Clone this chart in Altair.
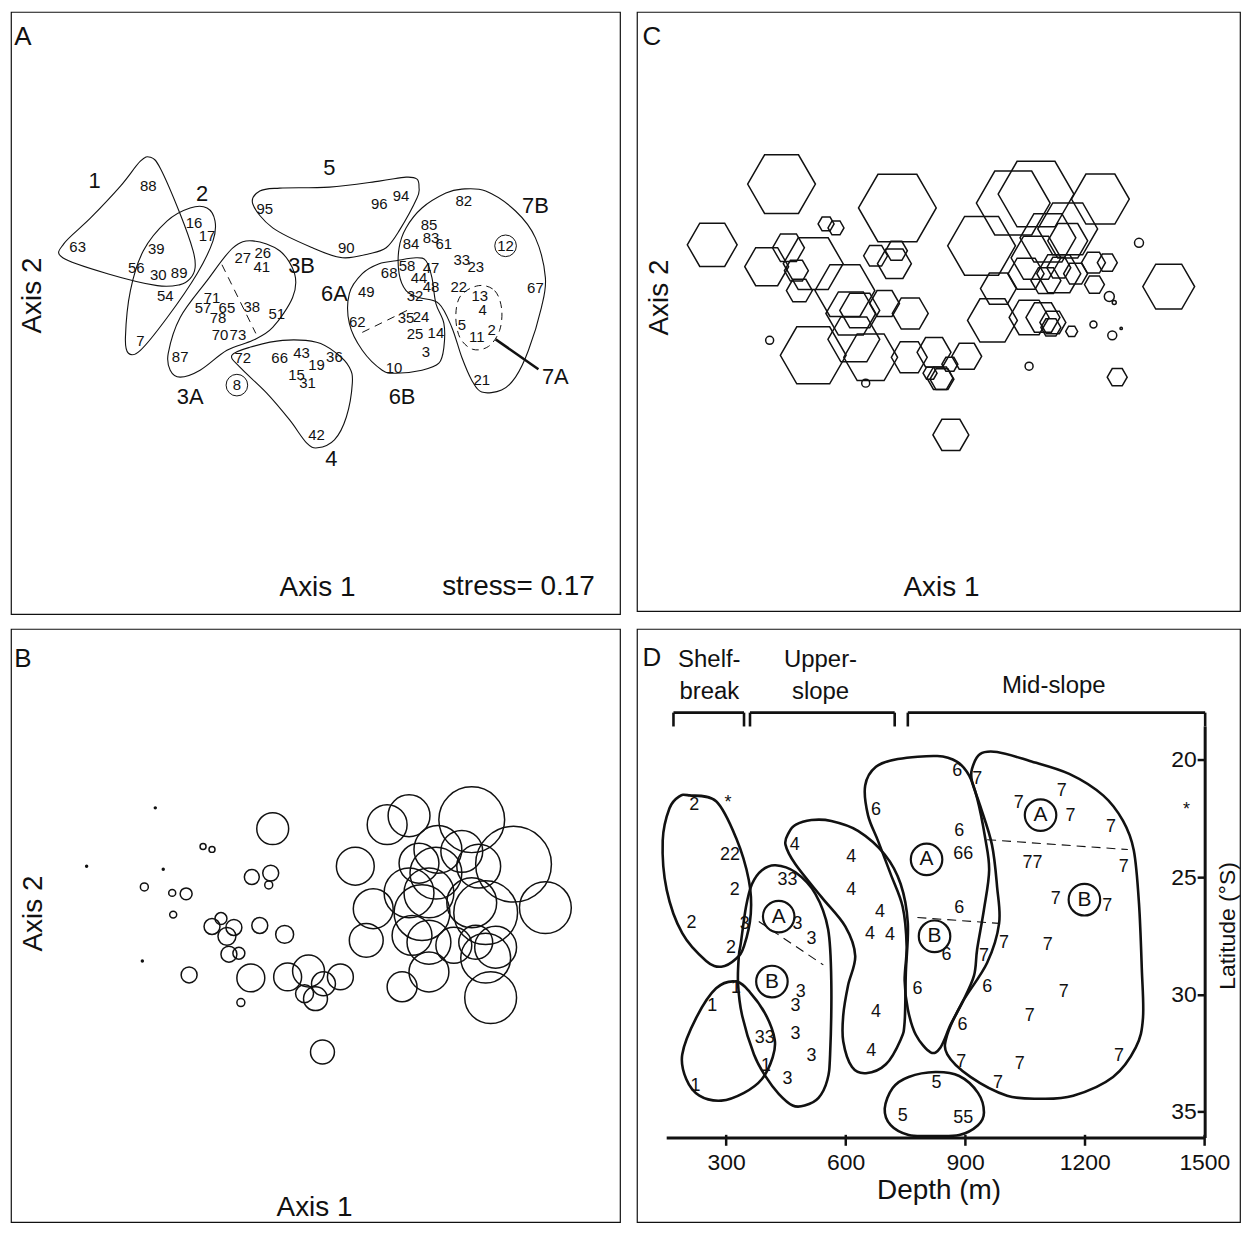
import altair as alt
import pandas as pd

FONT = "Liberation Sans"
INK = "#111111"
HEX = "M-1,0L-0.5,-0.866L0.5,-0.866L1,0L0.5,0.866L-0.5,0.866Z"

# ---------------- Panel A : NMDS ordination, site numbers ----------------
A_site_label = ["88","16","17","63","39","56","30","89","54","7",
                "27","26","41","71","57","65","78","38","51","70",
                "73","87","72","66","43","19","36","15","31","42",
                "8","95","96","94","90","82","85","83","61","84",
                "12","33","23","58","68","47","44","49","48","22",
                "13","67","32","4","62","35","24","5","25","14",
                "11","2","3","10","21"]
A_site_ax1 = [148,194,207,77,156,136,158,179,165,140,
              243,263,262,212,203,227,218,252,277,220,
              238,180,243,280,302,317,335,297,308,317,
              237,265,380,402,347,465,430,432,445,412,
              507,463,477,408,390,432,420,367,432,460,
              481,537,416,484,358,407,422,463,416,437,
              478,493,427,395,483]
A_site_ax2 = [185,222,235,246,248,267,274,272,295,341,
              257,252,266,297,308,308,318,306,314,335,
              335,357,358,358,353,365,357,375,383,435,
              385,208,203,195,247,200,224,237,243,243,
              245,259,266,265,272,267,277,291,286,286,
              295,287,295,310,322,318,317,325,334,333,
              337,330,352,368,380]

A_group_label = ["1","2","5","7B","3B","6A","3A","6B","4","7A"]
A_group_ax1 = [94,202,330,537,302,335,190,403,332,557]
A_group_ax2 = [180,193,167,205,265,293,397,397,459,377]

A_outlines = {
    "1": [(150,156),(160,167),(180,213),(193,250),(195,267),(190,278),(180,284),(157,285),
          (107,273),(62,257),(63,243),(90,217),(120,185),(140,160)],
    "2": [(207,207),(215,220),(213,240),(197,273),(167,317),(140,350),(128,353),(125,337),
          (130,290),(143,250),(167,220),(190,207)],
    "3": [(253,240),(280,250),(295,273),(293,297),(273,327),(253,340),(227,350),(200,370),
          (180,377),(170,370),(168,353),(180,317),(207,280),(233,247)],
    "4": [(232,355),(250,347),(283,340),(317,342),(337,353),(350,367),(353,383),(347,417),
          (335,440),(318,448),(307,443),(290,420),(267,393),(240,367)],
    "5": [(253,203),(260,190),(280,187),(330,186),(380,180),(407,176),(418,178),(420,186),
          (418,197),(400,230),(387,247),(370,253),(343,257),(313,247),(273,227)],
    "6": [(397,260),(417,257),(427,260),(433,277),(437,303),(445,323),(445,347),(440,363),
          (423,370),(397,373),(383,370),(363,350),(350,323),(350,293),(363,273),(380,263)],
    "7": [(463,188),(487,190),(517,210),(537,237),(547,277),(543,307),(530,350),(517,377),
          (503,390),(483,392),(473,380),(463,357),(453,327),(440,303),(420,297),(407,290),
          (400,273),(400,247),(407,227),(423,207),(447,192)],
}
A_subgroup_7A = [(480,285),(496,290),(503,308),(501,330),(490,346),(474,349),(461,337),
                 (457,315),(462,295)]
A_split_x1 = [222, 363]
A_split_y1 = [264, 332]
A_split_x2 = [256, 412]
A_split_y2 = [333, 308]
A_pointer = [(497, 339, 540, 369)]
A_ring_ax1 = [237, 507]
A_ring_ax2 = [385, 245]

# ---------------- Panel B : bubbles ----------------
B_dot_ax1 = [155, 86, 163, 142]
B_dot_ax2 = [811, 870, 873, 966]
B_ax1 = [203,212,144,172,186,173,273,252,271,269,221,212,234,227,260,285,229,239,189,251,
         288,309,324,305,316,341,241,323,
         388,410,473,515,356,439,463,420,480,437,410,374,430,487,473,547,423,367,413,430,
         455,477,497,487,430,403,492]
B_ax2 = [850,853,891,897,898,919,832,881,877,889,923,931,932,941,930,939,959,958,980,983,
         982,976,989,999,1004,982,1008,1058,
         828,819,823,868,870,853,855,867,870,877,897,913,897,917,907,912,917,945,940,947,
         950,947,952,963,977,992,1003]
B_abund = [3,3,4,3.5,6,3.5,16,7.5,8,4,6,8,8,9,8,9,8,6,8,14,
           14,16,12,9,12,13,4,12,
           20,21,33,38,19,24,21,20,22,26,25,20,25,32,25,26,28,17,20,22,
           18,17,21,25,20,15,26]

# ---------------- Panel C : hexagons ----------------
C_hex_ax1 = [783,713,900,828,838,768,790,798,801,815,847,853,862,856,887,913,878,899,897,
             815,873,912,937,970,953,943,933,945,954,
             985,1017,1040,1105,1072,1052,1072,1040,1030,1063,1050,1063,1080,1098,1112,1099,
             1174,1002,996,1047,1057,1055,1076,1122,1033]
C_hex_ax2 = [183,244,207,223,227,266,247,270,290,263,290,313,310,339,303,313,255,250,263,
             355,357,357,352,356,364,378,373,379,435,
             245,202,193,198,228,237,240,257,273,273,280,267,273,262,262,284,
             286,288,320,317,322,327,331,377,317]
C_hex_abund = [34,25,39,8,8,22,16,12,13,30,30,25,20,26,15,18,12,11,17,
               33,27,18,17,15,8,13,7,12,18,
               34,37,38,29,30,28,20,25,18,22,15,12,12,12,10,10,
               26,18,25,17,13,10,6,10,20]
C_circ_ax1 = [771, 868, 1033, 1098, 1144, 1119, 1117, 1114, 1126]
C_circ_ax2 = [340, 383, 366, 324, 242, 302, 335, 296, 328]
C_circ_abund = [4, 4, 4, 3.5, 4.5, 2, 4.5, 5, 1.2]

# ---------------- Panel D : depth x latitude ----------------
D_site_label = ["2","*","22","2","2","3","2","1","1","1","1",
                "33","3","3","3","3","33","3","3","3",
                "4","4","4","4","4","4","4","4",
                "6","6","7","6","66","6","6","6","6","6",
                "7","7","7","7","77","7","7","7","7","7","7","7","7","7","7","7","7",
                "5","5","55","*"]
D_site_depth = [220,305,310,322,213,347,312,325,265,400,223,
                454,479,514,487,474,397,474,514,454,
                472,614,614,686,661,711,676,664,
                676,880,930,885,895,885,853,780,955,893,
                1034,1142,1164,1266,1069,1298,1127,1256,997,1107,947,1147,1062,890,1037,1286,982,
                828,743,895,1455]
D_site_lat = [21.93,21.85,24.07,25.54,26.97,27.01,28.02,29.74,30.5,33.06,33.9,
              25.12,27.01,27.64,29.91,30.5,31.84,31.68,32.64,33.61,
              23.61,24.12,25.54,26.47,27.43,27.48,30.75,32.43,
              22.14,20.46,20.8,23.02,24.03,26.3,28.32,29.79,29.7,31.3,
              21.85,21.34,22.39,22.86,24.41,24.58,25.92,26.22,27.81,27.9,28.36,29.91,30.92,32.89,32.98,32.64,33.78,
              33.78,35.2,35.29,22.14]

D_ring_label = ["A","B","A","B","A","B"]
D_ring_depth = [432, 415, 803, 823, 1089, 1199]
D_ring_lat = [26.68, 29.45, 24.24, 27.52, 22.35, 25.96]

D_outlines = {
    "1": [(325,29.45),(275,29.74),(225,31.0),(190,32.56),(200,33.61),(233,34.32),(288,34.53),
          (345,34.2),(390,33.61),(417,32.68),(422,31.93),(400,30.88),(360,29.91)],
    "2": [(208,21.51),(275,21.76),(325,23.32),(357,25.12),(362,26.55),(345,27.94),(325,28.48),
          (288,28.82),(250,28.57),(190,27.39),(151,25.54),(141,23.44),(158,22.06),(183,21.55)],
    "3": [(424,24.49),(474,24.79),(524,25.71),(556,27.22),(564,29.49),(561,32.56),(554,33.65),
          (532,34.41),(497,34.74),(467,34.74),(432,34.24),(400,33.52),(370,32.56),(340,30.88),
          (330,29.53),(332,28.36),(337,27.81),(350,26.26),(365,25.29),(390,24.7)],
    "4": [(457,23.11),(474,22.77),(514,22.56),(564,22.6),(631,23.02),(698,24.03),(738,25.29),
          (756,26.97),(751,29.07),(748,31.17),(738,31.93),(701,32.98),(651,33.36),(616,33.1),
          (594,32.01),(594,30.88),(606,29.62),(624,28.36),(599,27.1),(539,25.84),(474,24.45),
          (449,23.61)],
    "5": [(825,33.31),(885,33.48),(932,34.2),(947,35.04),(932,35.58),(885,36.0),(815,36.04),
          (758,36.0),(713,35.58),(698,34.87),(718,33.99),(758,33.52)],
    "6": [(731,19.96),(830,19.83),(880,20.08),(910,20.67),(930,21.64),(950,23.32),(960,24.7),
          (947,26.38),(930,28.06),(922,29.2),(893,30.33),(863,31.3),(838,32.26),(813,32.47),
          (776,31.72),(756,30.63),(748,29.41),(753,27.94),(743,26.26),(713,24.87),(681,23.44),
          (656,22.35),(649,21.09),(676,20.29)],
    "7": [(917,20.38),(937,19.75),(980,19.66),(1062,20.04),(1161,20.59),(1246,21.51),(1296,22.6),
          (1323,23.86),(1336,26.13),(1343,28.9),(1346,31.0),(1328,32.26),(1271,33.52),(1171,34.32),
          (1087,34.45),(1005,34.32),(913,33.52),(855,32.56),(855,31.72),(893,30.33),(955,28.65),
          (985,26.97),(980,25.42),(967,23.61),(937,21.93),(917,20.92)],
}
D_split = [(382,26.89,544,28.74),(780,26.72,985,26.97),(955,23.4,1308,23.82)]

D_zone_name = ["Shelf-\nbreak", "Upper-\nslope", "Mid-slope"]
D_zone_start = [168, 360, 756]
D_zone_end = [345, 723, 1502]
D_zone_label_depth = [258, 537, 1122]
D_zone_label_lat = [15.21, 15.21, 16.35]
D_bracket_top = 17.98
D_bracket_foot = 18.57
D_depth_ticks = [300, 600, 900, 1200, 1500]
D_lat_ticks = [20, 25, 30, 35]
D_axis_depth = [151, 1502]
D_axis_lat = [18.57, 36.13]


# ---------------- helpers ----------------
def xy(xdom, ydom, xaxis, yaxis):
    return dict(
        x=alt.X("x:Q", scale=alt.Scale(domain=xdom, nice=False, zero=False), axis=xaxis),
        y=alt.Y("y:Q", scale=alt.Scale(domain=ydom, nice=False, zero=False, reverse=True), axis=yaxis),
    )


def hidden_x(title, tx, ty):
    return alt.Axis(title=title, labels=False, ticks=False, domain=False, grid=False,
                    titleX=tx, titleY=ty, titleFont=FONT, titleFontSize=28,
                    titleFontWeight="normal", titleColor=INK,
                    titleBaseline="middle", titleAlign="center")


def hidden_y(title, tx, ty):
    return alt.Axis(title=title, labels=False, ticks=False, domain=False, grid=False,
                    titleX=tx, titleY=ty, titleAngle=270, titleFont=FONT, titleFontSize=28,
                    titleFontWeight="normal", titleColor=INK,
                    titleBaseline="middle", titleAlign="center")


def outline_frame(outlines):
    rows = []
    for g, pts in outlines.items():
        for i, (a, b) in enumerate(pts):
            rows.append({"g": g, "i": i, "x": a, "y": b})
    return pd.DataFrame(rows)


def text_layer(df, enc, size, **kw):
    return alt.Chart(df).mark_text(font=FONT, fontSize=size, color=INK, **kw).encode(text="t:N", **enc)


def outline_layer(df, enc, width, dash=None):
    kw = dict(interpolate="cardinal-closed", tension=0, color=INK, strokeWidth=width)
    if dash:
        kw["strokeDash"] = dash
    return alt.Chart(df).mark_line(**kw).encode(detail="g:N", order="i:Q", **enc)


def rule_layer(df, enc, width, dash=None):
    kw = dict(color=INK, strokeWidth=width)
    if dash:
        kw["strokeDash"] = dash
    return alt.Chart(df).mark_rule(**kw).encode(x2="x2:Q", y2="y2:Q", **enc)


SIZE = alt.Size("ab:Q", scale=alt.Scale(type="pow", exponent=2, domain=[0, 40], range=[0, 6400]),
                legend=None)

# ---------------- Panel A ----------------
encA = xy([10, 622], [10, 615], hidden_x("Axis 1", 307, -27), hidden_y("Axis 2", 22, 284))
A_layers = [
    outline_layer(outline_frame(A_outlines), encA, 1.1),
    outline_layer(outline_frame({"7A": A_subgroup_7A}), encA, 1.0, dash=[7, 5]),
    rule_layer(pd.DataFrame({"x": A_split_x1, "y": A_split_y1, "x2": A_split_x2, "y2": A_split_y2}),
               encA, 1.0, dash=[8, 6]),
    rule_layer(pd.DataFrame(A_pointer, columns=["x", "y", "x2", "y2"]), encA, 2.6),
    alt.Chart(pd.DataFrame({"x": A_ring_ax1, "y": A_ring_ax2})).mark_point(
        shape="circle", size=470, filled=False, color=INK, strokeWidth=1.0, opacity=1).encode(**encA),
    text_layer(pd.DataFrame({"x": A_site_ax1, "y": A_site_ax2, "t": A_site_label}), encA, 15),
    text_layer(pd.DataFrame({"x": A_group_ax1, "y": A_group_ax2, "t": A_group_label}), encA, 22),
    text_layer(pd.DataFrame({"x": [22], "y": [35], "t": ["A"]}), encA, 26),
    text_layer(pd.DataFrame({"x": [520], "y": [588], "t": ["stress= 0.17"]}), encA, 28),
]
panelA = alt.layer(*A_layers).properties(width=611, height=604)

# ---------------- Panel B ----------------
encB = xy([10, 622], [630, 1230], hidden_x("Axis 1", 304, -15), hidden_y("Axis 2", 23, 285))
B_layers = [
    alt.Chart(pd.DataFrame({"x": B_ax1, "y": B_ax2, "ab": B_abund})).mark_point(
        shape="circle", filled=False, color=INK, strokeWidth=1.5, opacity=1).encode(size=SIZE, **encB),
    alt.Chart(pd.DataFrame({"x": B_dot_ax1, "y": B_dot_ax2})).mark_point(
        shape="circle", filled=True, size=12, color=INK, opacity=1).encode(**encB),
    text_layer(pd.DataFrame({"x": [22], "y": [660], "t": ["B"]}), encB, 26),
]
panelB = alt.layer(*B_layers).properties(width=611, height=595)

# ---------------- Panel C ----------------
encC = xy([637, 1246], [10, 612], hidden_x("Axis 1", 305, -24), hidden_y("Axis 2", 23, 286))
C_layers = [
    alt.Chart(pd.DataFrame({"x": C_hex_ax1, "y": C_hex_ax2, "ab": C_hex_abund})).mark_point(
        shape=HEX, filled=False, color=INK, strokeWidth=1.5, opacity=1).encode(size=SIZE, **encC),
    alt.Chart(pd.DataFrame({"x": C_circ_ax1, "y": C_circ_ax2, "ab": C_circ_abund})).mark_point(
        shape="circle", filled=False, color=INK, strokeWidth=1.5, opacity=1).encode(size=SIZE, **encC),
    text_layer(pd.DataFrame({"x": [652], "y": [35], "t": ["C"]}), encC, 26),
]
panelC = alt.layer(*C_layers).properties(width=605, height=601)

# ---------------- Panel D ----------------
d_xaxis = alt.Axis(title="Depth (m)", values=D_depth_ticks, format="d", orient="bottom", offset=-88,
                   domain=False, grid=False, tickSize=11, tickWidth=2.5, tickColor=INK,
                   labelFont=FONT, labelFontSize=23, labelColor=INK, labelPadding=6,
                   titleFont=FONT, titleFontSize=28, titleFontWeight="normal", titleColor=INK,
                   titlePadding=2)
d_yaxis = alt.Axis(title="Latitude (°S)", values=D_lat_ticks, format="d", orient="left", offset=-570,
                   domain=False, grid=False, tickSize=8, tickWidth=2.5, tickColor=INK,
                   labelFont=FONT, labelFontSize=23, labelColor=INK, labelPadding=1,
                   titleFont=FONT, titleFontSize=23, titleFontWeight="normal", titleColor=INK,
                   titleX=34, titleAngle=270, titleBaseline="bottom")
encD = xy([76.4, 1589.4], [14.41, 39.71], d_xaxis, d_yaxis)

bracket_rows = []
for s, e in zip(D_zone_start, D_zone_end):
    bracket_rows.append({"x": s, "y": D_bracket_top, "x2": e, "y2": D_bracket_top})
    bracket_rows.append({"x": s, "y": D_bracket_top, "x2": s, "y2": D_bracket_foot})
    bracket_rows.append({"x": e, "y": D_bracket_top, "x2": e, "y2": D_bracket_foot})
axis_rows = [
    {"x": D_axis_depth[0], "y": D_axis_lat[1], "x2": D_axis_depth[1], "y2": D_axis_lat[1]},
    {"x": D_axis_depth[1], "y": D_axis_lat[0], "x2": D_axis_depth[1], "y2": D_axis_lat[1]},
]

D_layers = [
    outline_layer(outline_frame(D_outlines), encD, 2.6),
    rule_layer(pd.DataFrame(D_split, columns=["x", "y", "x2", "y2"]), encD, 1.1, dash=[9, 6]),
    rule_layer(pd.DataFrame(bracket_rows), encD, 2.6),
    rule_layer(pd.DataFrame(axis_rows), encD, 3.0),
    alt.Chart(pd.DataFrame({"x": D_ring_depth, "y": D_ring_lat})).mark_point(
        shape="circle", size=1000, filled=False, color=INK, strokeWidth=2.2, opacity=1).encode(**encD),
    text_layer(pd.DataFrame({"x": D_ring_depth, "y": D_ring_lat, "t": D_ring_label}), encD, 21),
    text_layer(pd.DataFrame({"x": D_site_depth, "y": D_site_lat, "t": D_site_label}), encD, 18),
    text_layer(pd.DataFrame({"x": D_zone_label_depth, "y": D_zone_label_lat, "t": D_zone_name}),
               encD, 24, lineBreak="\n", baseline="top", lineHeight=32),
    text_layer(pd.DataFrame({"x": [113.7], "y": [15.63], "t": ["D"]}), encD, 26),
]
panelD = alt.layer(*D_layers).properties(width=605, height=595)

row1 = alt.hconcat(panelA, panelC, spacing=15)
row2 = alt.hconcat(panelB, panelD, spacing=15)
chart = alt.vconcat(row1, row2, spacing=13).properties(
    padding={"left": 2, "top": 1, "right": 0, "bottom": 0}
).configure_view(stroke=INK, strokeWidth=1.2)

chart.save("out.html", embed_options={"renderer": "svg", "actions": False})
